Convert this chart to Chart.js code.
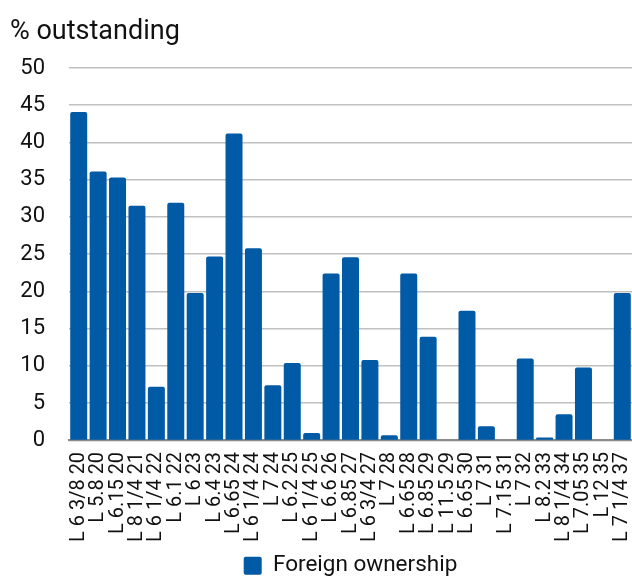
<!DOCTYPE html>
<html>
<head>
<meta charset="utf-8">
<script src="https://cdn.jsdelivr.net/npm/chart.js@4"></script>
<style>
  html, body { margin: 0; padding: 0; background: #fff; }
  #wrap { width: 632px; height: 577px; position: relative; }
</style>
</head>
<body>
<div id="wrap"><canvas id="ownership-chart"></canvas></div>
<script>
// Bonds (coupon + maturity year)
const bonds = [
  'L 6 3/8 20', 'L 5.8 20', 'L 6.15 20', 'L 8 1/4 21', 'L 6 1/4 22', 'L 6.1 22',
  'L 6 23', 'L 6.4 23', 'L 6.65 24', 'L 6 1/4 24', 'L 7 24', 'L 6.2 25',
  'L 6 1/4 25', 'L 6.6 26', 'L 6.85 27', 'L 6 3/4 27', 'L 7 28', 'L 6.65 28',
  'L 6.85 29', 'L 11.5 29', 'L 6.65 30', 'L 7 31', 'L 7.15 31', 'L 7 32',
  'L 8.2 33', 'L 8 1/4 34', 'L 7.05 35', 'L 12 35', 'L 7 1/4 37'
];

// Foreign holders, % of amount outstanding
const foreignShare = [
  44.1, 36.1, 35.3, 31.5, 7.2, 31.9,
  19.8, 24.7, 41.2, 25.8, 7.4, 10.4,
  1.0, 22.4, 24.6, 10.8, 0.7, 22.4,
  13.9, 0, 17.4, 1.9, 0, 11.0,
  0.4, 3.5, 9.8, 0, 19.8
];

const yTicks = { min: 0, max: 50, step: 5 };

const BLUE = '#005AA5';
const FONT = "Roboto, 'Noto Sans', sans-serif";

new Chart(document.getElementById('ownership-chart'), {
  type: 'bar',
  data: {
    labels: bonds,
    datasets: [{
      label: 'Foreign ownership',
      data: foreignShare,
      backgroundColor: BLUE,
      borderRadius: 2,
      categoryPercentage: 1,
      barPercentage: 0.875,
    }],
  },
  options: {
    responsive: true,
    maintainAspectRatio: false,
    animation: false,
    // legend sits low, so let its bottom spacing run past the canvas
    layout: { padding: { left: 10, right: 0, top: 16, bottom: -10 } },
    plugins: {
      title: {
        display: true,
        text: '% outstanding',
        align: 'start',
        color: '#111',
        font: { family: FONT, size: 27, weight: 'normal' },
        padding: { top: 0, bottom: 19.6 },
      },
      legend: {
        display: true,
        position: 'bottom',
        fullSize: false,
        labels: {
          color: '#111',
          font: { family: FONT, size: 22.5 },
          boxWidth: 18,
          boxHeight: 18,
          useBorderRadius: true,
          borderRadius: 2,
          padding: 9,
        },
      },
      tooltip: { enabled: false },
    },
    scales: {
      x: {
        grid: { display: false },
        border: { display: true, color: '#8c8c8c', width: 2 },
        ticks: {
          color: '#111',
          font: { family: FONT, size: 20 },
          minRotation: 90,
          maxRotation: 90,
          autoSkip: false,
          padding: 3.5,
        },
        // the rotated labels fit inside their columns, so drop the edge padding
        afterFit: (s) => { s.paddingLeft = 0; s.paddingRight = 0; },
      },
      y: {
        min: yTicks.min,
        max: yTicks.max,
        border: { display: false },
        grid: { color: '#c0c0c0', lineWidth: 1.5, drawTicks: false },
        ticks: {
          stepSize: yTicks.step,
          color: '#111',
          font: { family: FONT, size: 22 },
          padding: 24,
        },
        afterFit: (s) => { s.width = 59; },
      },
    },
  },
});
</script>
</body>
</html>
